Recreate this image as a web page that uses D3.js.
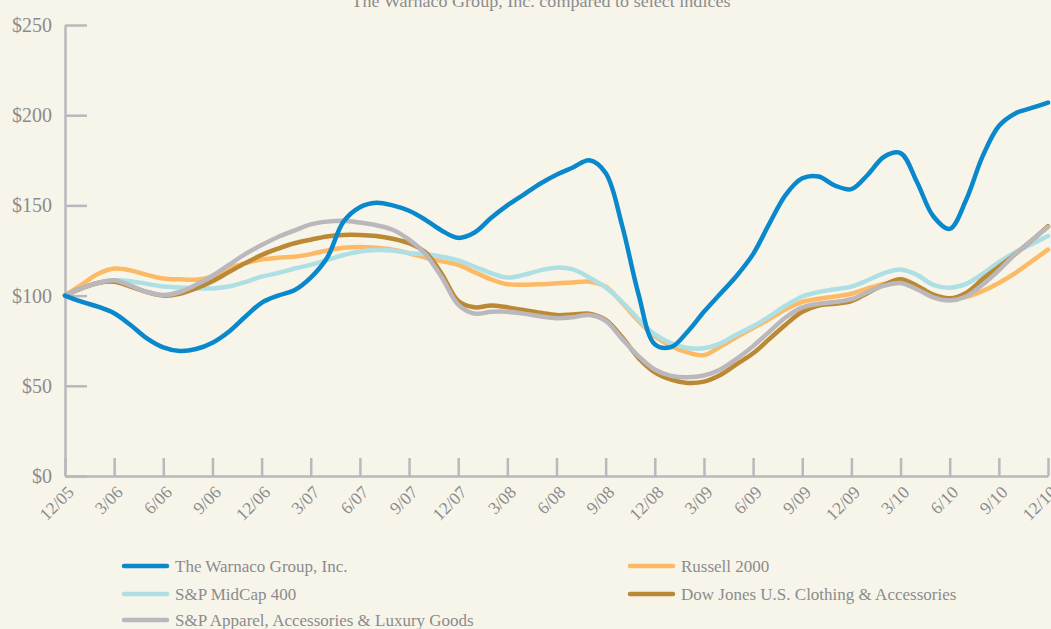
<!DOCTYPE html>
<html><head><meta charset="utf-8">
<script src="https://cdn.jsdelivr.net/npm/d3@7"></script>
<style>
html,body{margin:0;padding:0;background:#f7f5ea;}
svg{display:block;}
text{font-family:"Liberation Serif","DejaVu Serif",serif;fill:#8b8b8d;}
</style></head>
<body>
<svg id="chart" width="1051" height="629"></svg>
<script>
// ---- data (index value, $100 invested 12/05; monthly readings) ----
const quarterLabels = ["12/05","3/06","6/06","9/06","12/06","3/07","6/07","9/07","12/07","3/08","6/08","9/08","12/08","3/09","6/09","9/09","12/09","3/10","6/10","9/10","12/10"];
const yTicks = [0,50,100,150,200,250];
const seriesNames = ["The Warnaco Group, Inc.","Russell 2000","S&P MidCap 400","Dow Jones U.S. Clothing & Accessories","S&P Apparel, Accessories & Luxury Goods"];
const warnaco = [100,96.6,93.9,90.2,83.7,76.3,71.3,69.3,70.4,73.9,80,88.3,96,100,103,110,121,141,149,151.5,150,147,142,136,132,135,143,150,156,162,167,171,175,168,139,101,73,71.5,80,91,101,111,123,140,156,165,166,161,159,167,177,179,163,144,137,153,177,194,201,204,207];
const russell = [100,106,112,115,114,111.5,109.5,109,108.8,110.5,115,118,120,121,121.5,123,125,126.5,127,126.5,125.5,123.5,121,119,117,113,109,106.3,106,106.3,106.8,107.3,107.7,105,96,86,77.5,72,68.5,67,71.7,77,82,87,92.5,96.5,98.3,99.5,101,104,106.5,107.5,104,100,98,99.3,102.5,107,112.5,119,125.5];
const midcap = [100,104,107,108.5,108,106.5,105,104.5,104,104,105,107.5,110.5,112.5,115,117,119.7,122.5,124.5,125.3,125,123.5,123,121.5,119.5,116,112.5,110,111.5,114,115.5,114.5,110,104.5,96.5,87,78.5,73.5,71,70.8,73.5,78.5,83,88.5,94.5,99.5,102,103.5,105,108.5,112.5,114.5,111.5,106,104.4,106.5,112,118.5,124,128.5,133];
const dowjones = [100,104,107,107.7,105,102,100,101,104,108,113,118,122.5,126,129,131,132.8,133.6,133.6,133,131.5,129,124,112,97,93.5,94.5,93.5,92,90.5,89.2,89.5,90,86.5,77,65.5,57.5,53.5,51.6,52.3,56,62,68,76,84,91,94.5,95.5,97,101.5,106,109,105.5,100.5,98.5,101.5,109,116,123,130.5,138.5];
const apparel = [100,104,107,108.5,105.5,102,100.3,102,106,111,117,123,128,132.5,136,139.5,141,141.5,140.5,139,136.5,131,123,110,95,90,91,91,90,88.5,87.5,88,89.2,86,76,66.5,59,55.5,54.7,55.7,59.1,65,72,80,88,93.5,95.5,96.5,98,102,105.5,107,103.5,99,97.3,99.5,106,114,123,130.5,138];

const colors = ["#0a88cc","#fdba66","#aedfe5","#bb8834","#bab8bd"];
const allSeries = [warnaco, russell, midcap, dowjones, apparel];

const svg = d3.select("#chart");
const W = 1051;
svg.append("rect").attr("width",W).attr("height",629).attr("fill","#f7f5ea");

const x = d3.scaleLinear().domain([0,60]).range([65,1048]);
const y = d3.scaleLinear().domain([0,250]).range([476,25]);

// title (partially cut at top in the original)
svg.append("text").attr("x",541).attr("y",7).attr("text-anchor","middle")
  .style("font-size","16px").attr("textLength",379).attr("lengthAdjust","spacingAndGlyphs")
  .text("The Warnaco Group, Inc. compared to select indices");

const axisColor = "#b9b8bd";

// y axis
const gy = svg.append("g").attr("transform","translate(65,0)")
  .call(d3.axisLeft(y).tickValues(yTicks).tickSizeInner(-22).tickSizeOuter(0).tickPadding(13)
    .tickFormat(d => "$" + d));
gy.select(".domain").attr("stroke",axisColor).attr("stroke-width",2.5);
gy.selectAll(".tick line").attr("stroke",axisColor).attr("stroke-width",2.5);
gy.selectAll(".tick text").style("font-size","20px").attr("fill","#8b8b8d").attr("font-family",null);

// x axis
const gx = svg.append("g").attr("transform","translate(0,476)")
  .call(d3.axisBottom(x).tickValues(d3.range(0,61,3)).tickSizeInner(-18).tickSizeOuter(0)
    .tickFormat((d,i) => quarterLabels[i]));
gx.select(".domain").attr("stroke",axisColor).attr("stroke-width",2.5);
gx.selectAll(".tick line").attr("stroke",axisColor).attr("stroke-width",2.5);
gx.selectAll(".tick text").style("font-size","17.5px").attr("fill","#8b8b8d").attr("font-family",null)
  .attr("text-anchor","end").attr("x",0).attr("y",0).attr("dy","0.35em")
  .attr("transform","translate(5,13) rotate(-45)");

// lines
const line = d3.line().x((d,i) => x(i)).y(d => y(d)).curve(d3.curveCatmullRom.alpha(0.5));
const drawOrder = [1,2,3,4,0];
drawOrder.forEach(k => {
  svg.append("path").datum(allSeries[k]).attr("d",line)
    .attr("fill","none").attr("stroke",colors[k]).attr("stroke-width",4.5)
    .attr("stroke-linejoin","round").attr("stroke-linecap","round");
});

// legend
const legendPos = [[124,566],[630,566],[124,594],[630,594],[124,620]];
const legendOrder = [0,1,2,3,4];
legendOrder.forEach((k,j) => {
  const [lx,ly] = legendPos[j];
  svg.append("line").attr("x1",lx).attr("x2",lx+43).attr("y1",ly).attr("y2",ly)
    .attr("stroke",colors[k]).attr("stroke-width",4.5).attr("stroke-linecap","round");
  svg.append("text").attr("x",lx+51).attr("y",ly+6).style("font-size","17px").text(seriesNames[k]);
});
</script>
</body></html>
